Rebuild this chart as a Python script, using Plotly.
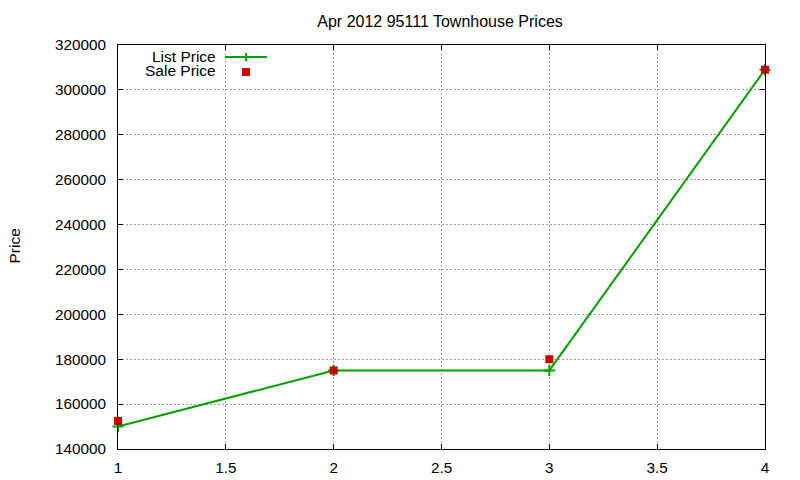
import plotly.graph_objects as go

# listings per index (1..4)
idx = [1, 2, 3, 4]
list_price = [150000, 175000, 175000, 309000]
sale_price = [152500, 175000, 180000, 309000]

x_ticks = [1, 1.5, 2, 2.5, 3, 3.5, 4]
y_ticks = list(range(140000, 320001, 20000))

GREEN = "#00a000"
RED = "#cc0000"
FONT = "Liberation Sans, Arial, sans-serif"

fig = go.Figure()

fig.add_trace(go.Scatter(
    x=idx, y=list_price, name="List Price", mode="lines+markers",
    line=dict(color=GREEN, width=2),
    marker=dict(symbol="cross-thin", size=8, line=dict(color=GREEN, width=2)),
    cliponaxis=False,
))
fig.add_trace(go.Scatter(
    x=idx, y=sale_price, name="Sale Price", mode="markers",
    marker=dict(symbol="square", size=8, color=RED),
    cliponaxis=False,
))

# gnuplot-like key: right-aligned text, sample to the right
key = [("List Price", 0.9740), ("Sale Price", 0.9370)]
for label, yy in key:
    fig.add_annotation(text=label, xref="paper", yref="paper", x=0.153, y=yy,
                       xanchor="right", yanchor="middle", showarrow=False,
                       borderpad=0, height=14, valign="middle",
                       font=dict(family=FONT, size=15.5, color="black"))
fig.add_shape(type="line", xref="paper", yref="paper",
              x0=0.1654, x1=0.2303, y0=0.9703, y1=0.9703, line=dict(color=GREEN, width=2))
fig.add_shape(type="line", xref="paper", yref="paper",
              x0=0.1978, x1=0.1978, y0=0.9604, y1=0.9802, line=dict(color=GREEN, width=2))
fig.add_shape(type="rect", xref="paper", yref="paper",
              x0=0.1916, x1=0.204, y0=0.9233, y1=0.943,
              line=dict(width=0), fillcolor=RED)

# y axis title placed like gnuplot's ylabel
fig.add_annotation(text="Price", xref="paper", yref="paper", x=-0.16, y=0.5025,
                   xanchor="center", yanchor="middle", textangle=-90, showarrow=False,
                   borderpad=0, height=12, valign="middle",
                   font=dict(family=FONT, size=15.5, color="black"))

axis_common = dict(
    showline=True, linecolor="black", linewidth=1, mirror="ticks",
    ticks="inside", ticklen=5, tickcolor="black", automargin=False,
    showgrid=True, gridcolor="#a0a0a0", griddash="2px,2px", gridwidth=1,
    zeroline=False, tickfont=dict(family=FONT, size=15.3, color="black"),
)

fig.update_xaxes(range=[1, 4], tickvals=x_ticks,
                 ticktext=[f"{v:g}" for v in x_ticks], ticklabelstandoff=5,
                 **axis_common)
fig.update_yaxes(range=[140000, 320000], tickvals=y_ticks,
                 ticktext=[str(v) for v in y_ticks], ticklabelstandoff=8,
                 **axis_common)

# page body adds an 8px margin, so the figure is 8px smaller each way
fig.update_layout(
    width=792, height=472,
    margin=dict(l=110, r=35, t=37, b=31, autoexpand=False),
    paper_bgcolor="white", plot_bgcolor="white",
    showlegend=False,
    title=dict(text="Apr 2012 95111 Townhouse Prices", x=0.5455, xanchor="center",
               y=0.972, yanchor="middle",
               font=dict(family=FONT, size=16, color="black")),
    font=dict(family=FONT, size=15, color="black"),
)

fig.write_html("out.html")
